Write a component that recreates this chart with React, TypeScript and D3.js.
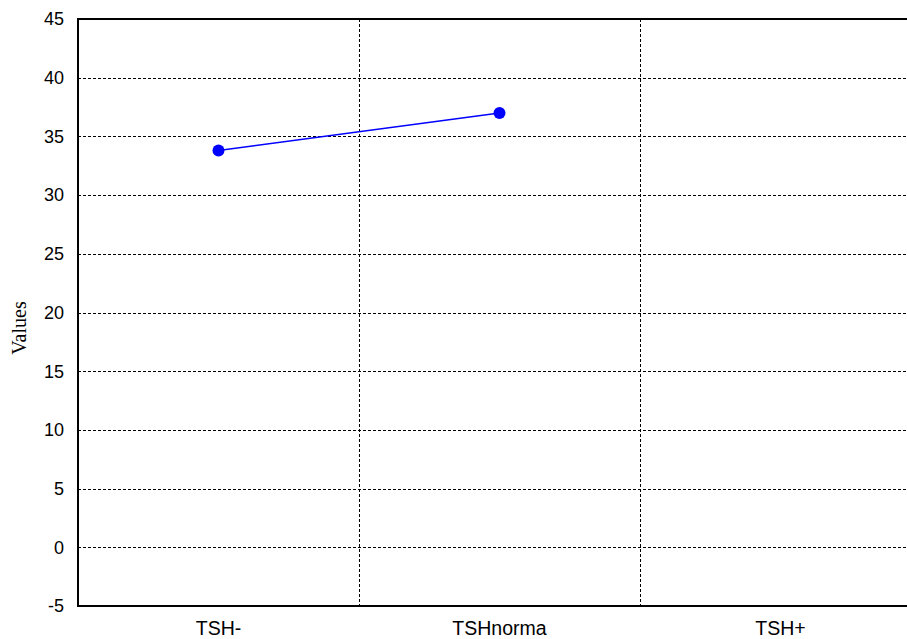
import * as React from 'react';
import * as d3 from 'd3';

const categories = ['TSH-', 'TSHnorma', 'TSH+'];
const values: (number | null)[] = [33.8, 37.0, null];
const yTicks = [-5, 0, 5, 10, 15, 20, 25, 30, 35, 40, 45];

const width = 907;
const height = 639;
const margin = { top: 19, right: -14, bottom: 33, left: 78 };

export default function App() {
  const svgRef = React.useRef<SVGSVGElement>(null);

  React.useEffect(() => {
    const svg = d3.select(svgRef.current);
    svg.selectAll('*').remove();

    const x0 = margin.left;
    const x1 = width - margin.right;
    const y0 = height - margin.bottom;
    const y1 = margin.top;

    const x = d3.scaleBand().domain(categories).range([x0, x1]);
    const y = d3.scaleLinear().domain([-5, 45]).range([y0, y1]);

    // horizontal grid
    svg.append('g')
      .selectAll('line')
      .data(yTicks.filter(t => t > -5 && t < 45))
      .enter()
      .append('line')
      .attr('x1', x0)
      .attr('x2', x1)
      .attr('y1', d => Math.round(y(d)) + 0.5)
      .attr('y2', d => Math.round(y(d)) + 0.5)
      .attr('stroke', '#000')
      .attr('stroke-width', 1)
      .attr('stroke-dasharray', '3,2');

    // vertical grid between categories
    svg.append('g')
      .selectAll('line')
      .data(categories.slice(1))
      .enter()
      .append('line')
      .attr('x1', d => Math.round(x(d)!) + 0.5)
      .attr('x2', d => Math.round(x(d)!) + 0.5)
      .attr('y1', y1)
      .attr('y2', y0)
      .attr('stroke', '#000')
      .attr('stroke-width', 1)
      .attr('stroke-dasharray', '3,2');

    // frame
    svg.append('line').attr('x1', x0).attr('x2', x1).attr('y1', y1).attr('y2', y1)
      .attr('stroke', '#000').attr('stroke-width', 2);
    svg.append('line').attr('x1', x0).attr('x2', x1).attr('y1', y0).attr('y2', y0)
      .attr('stroke', '#000').attr('stroke-width', 2);
    svg.append('line').attr('x1', x0).attr('x2', x0).attr('y1', y1 - 1).attr('y2', y0 + 1)
      .attr('stroke', '#000').attr('stroke-width', 2);

    // y tick labels
    svg.append('g')
      .selectAll('text')
      .data(yTicks)
      .enter()
      .append('text')
      .attr('x', x0 - 14)
      .attr('y', d => y(d))
      .attr('dy', '0.35em')
      .attr('text-anchor', 'end')
      .attr('font-family', 'Liberation Sans, Arial, sans-serif')
      .attr('font-size', 18)
      .text(d => d);

    // x labels
    svg.append('g')
      .selectAll('text')
      .data(categories)
      .enter()
      .append('text')
      .attr('x', d => x(d)! + x.bandwidth() / 2)
      .attr('y', y0 + 29)
      .attr('text-anchor', 'middle')
      .attr('font-family', 'Liberation Sans, Arial, sans-serif')
      .attr('font-size', 19.5)
      .text(d => d);

    // y axis title
    svg.append('text')
      .attr('transform', `translate(26,328) rotate(-90)`)
      .attr('text-anchor', 'middle')
      .attr('font-family', 'Liberation Serif, Times New Roman, serif')
      .attr('font-size', 20)
      .text('Values');

    const pts = categories
      .map((c, i) => ({ c, v: values[i] }))
      .filter(d => d.v !== null) as { c: string; v: number }[];

    const line = d3.line<{ c: string; v: number }>()
      .x(d => x(d.c)! + x.bandwidth() / 2)
      .y(d => y(d.v));

    svg.append('path')
      .datum(pts)
      .attr('d', line)
      .attr('fill', 'none')
      .attr('stroke', '#0000ff')
      .attr('stroke-width', 1.5);

    svg.append('g')
      .selectAll('circle')
      .data(pts)
      .enter()
      .append('circle')
      .attr('cx', d => x(d.c)! + x.bandwidth() / 2)
      .attr('cy', d => y(d.v))
      .attr('r', 6)
      .attr('fill', '#0000ff');
  }, []);

  return (
    <svg
      ref={svgRef}
      width={width}
      height={height}
      style={{ position: 'absolute', left: 0, top: 0, background: '#fff' }}
    />
  );
}
